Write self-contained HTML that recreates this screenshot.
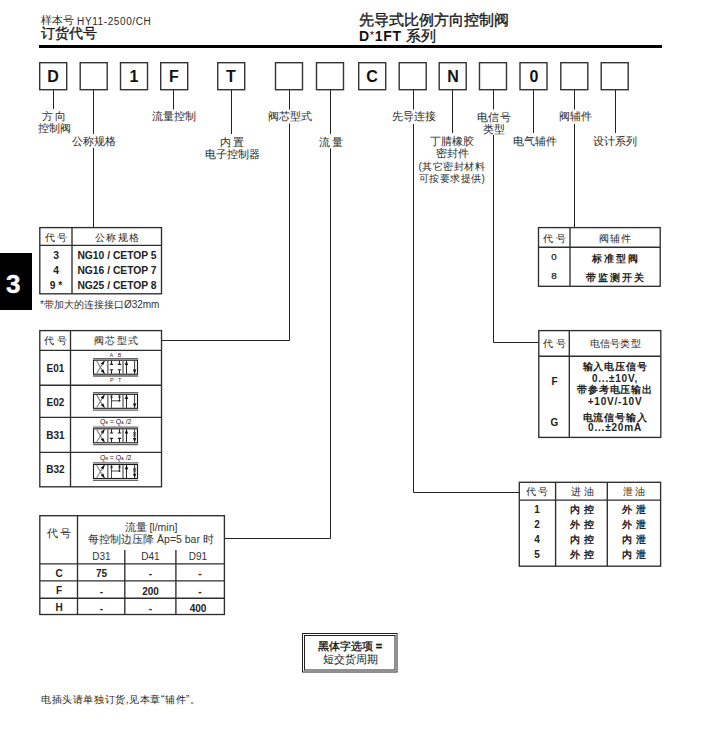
<!DOCTYPE html>
<html><head><meta charset="utf-8">
<style>
html,body{margin:0;padding:0;background:#fff;}
body{width:720px;height:755px;position:relative;overflow:hidden;font-family:"Liberation Sans",sans-serif;color:#222;}
.t{position:absolute;white-space:nowrap;line-height:1;}
.c{text-align:center;}
.b{font-weight:bold;}
svg{position:absolute;left:0;top:0;}
</style></head><body>
<svg width="720" height="755" viewBox="0 0 720 755">
<g fill="none" stroke="#222" stroke-width="1">
<!-- header rule -->
<rect x="39" y="45" width="623" height="3" fill="#000" stroke="none"/>
<!-- code boxes -->
<g stroke="#333" stroke-width="1.4">
<rect x="39.7" y="62.7" width="27" height="27"/>
<rect x="80.2" y="62.7" width="27" height="27"/>
<rect x="120.5" y="62.7" width="27" height="27"/>
<rect x="160.7" y="62.7" width="27" height="27"/>
<rect x="217.7" y="62.7" width="27" height="27"/>
<rect x="275.5" y="62.7" width="27" height="27"/>
<rect x="316.5" y="62.7" width="27" height="27"/>
<rect x="358.7" y="62.7" width="27" height="27"/>
<rect x="399.2" y="62.7" width="27" height="27"/>
<rect x="439.2" y="62.7" width="27" height="27"/>
<rect x="479.5" y="62.7" width="27" height="27"/>
<rect x="520" y="62.7" width="27" height="27"/>
<rect x="560.8" y="62.7" width="27" height="27"/>
<rect x="601.2" y="62.7" width="27" height="27"/>
</g>
<!-- stems -->
<path d="M53.5 90V109 M93.5 90V134 M93.5 148V227.5 M173.5 90V109.5 M231.5 90V134 M289.5 90V109.5 M289.5 123.5V340.5H161.5 M330.5 90V134 M330.5 148.5V538.5H224.5 M413.5 90V109.5 M413.5 124V492.5H519.5 M452.5 90V133 M493.5 90V109.5 M493.5 135V342.5H538.5 M533.5 90V133 M574.5 90V109.5 M574.5 124V227.5 M615.5 90V133"/>
<!-- table 1 nominal size -->
<g stroke="#2e2e2e" stroke-width="1.35">
<rect x="39.8" y="227.6" width="121.7" height="66.2"/>
<path d="M39.8 245.3H161.5 M72 227.6V293.8"/>
<!-- table spool -->
<rect x="39.8" y="330.6" width="121.7" height="156.2"/>
<path d="M39.8 350.3H161.5 M39.8 385.2H161.5 M39.8 417.3H161.5 M39.8 452.3H161.5 M70.5 330.6V486.8"/>
<!-- table flow -->
<rect x="39.8" y="515.7" width="184.6" height="98.8"/>
<path d="M39.8 563.8H224.4 M39.8 580.9H224.4 M39.8 598.2H224.4 M77.5 515.7V614.5 M124.8 550V614.5 M175.9 550V614.5"/>
<!-- table valve accessories -->
<rect x="538.5" y="227.6" width="121.7" height="58.7"/>
<path d="M538.5 247.2H660.2 M570 227.6V286.3"/>
<!-- table signal -->
<rect x="538.8" y="330.6" width="122" height="106.8"/>
<path d="M538.8 356.2H660.8 M569.3 330.6V437.4"/>
<!-- table pilot -->
<rect x="519.3" y="482.3" width="141.3" height="83.9"/>
<path d="M519.3 500.1H660.6 M555.6 482.3V566.2 M607.3 482.3V566.2"/>
</g>
<!-- note box -->
<rect x="302.5" y="633.5" width="94.5" height="38.5"/>
<rect x="304.5" y="635.5" width="90.5" height="34.5"/>
</g>


<g transform="translate(93.5 360.2)">
<path d="M-0.5 -1.6H44.8 M-0.5 15.8H44.8" stroke="#666" stroke-width="1.3" fill="none"/>
<rect x="0" y="0" width="44" height="14" fill="none" stroke="#1a1a1a" stroke-width="1.1"/>
<path d="M14.3 0.5V13.5 M29.5 0.5V13.5" stroke="#777" stroke-width="1.5" fill="none"/>
<path d="M3.2 0.8L10.6 13.2 M3.2 13.2L10.6 0.8" stroke="#808080" stroke-width="1.1" fill="none"/>
<path d="M11.4 0.3L7.2 3.3L9.8 4.9Z M11.4 13.7L7.2 10.7L9.8 9.1Z" fill="#111"/>
<path d="M33 0.5V13.5" stroke="#222" stroke-width="1"/>
<path d="M33 0.5L31.3 4.8H34.7Z" fill="#111"/>
</g><g transform="translate(93.5 360.2)">
<path d="M18 0.5V4.2 M16.3 4.2H19.7 M26 0.5V4.2 M24.3 4.2H27.7 M18 13.5V9.6 M16.3 9.6H19.7 M26 13.5V9.6 M24.3 9.6H27.7" stroke="#222" stroke-width="1.1" fill="none"/>
</g><g transform="translate(93.5 360.2)">
<path d="M41.1 0.5V13.5" stroke="#222" stroke-width="0.9"/>
<path d="M41.1 13.5L39.4 9.2H42.8Z" fill="#111"/>
</g>
<g transform="translate(93.5 394.3)">
<path d="M-0.5 -1.6H44.8 M-0.5 15.8H44.8" stroke="#666" stroke-width="1.3" fill="none"/>
<rect x="0" y="0" width="44" height="14" fill="none" stroke="#1a1a1a" stroke-width="1.1"/>
<path d="M14.3 0.5V13.5 M29.5 0.5V13.5" stroke="#777" stroke-width="1.5" fill="none"/>
<path d="M3.2 0.8L10.6 13.2 M3.2 13.2L10.6 0.8" stroke="#808080" stroke-width="1.1" fill="none"/>
<path d="M11.4 0.3L7.2 3.3L9.8 4.9Z M11.4 13.7L7.2 10.7L9.8 9.1Z" fill="#111"/>
<path d="M33 0.5V13.5" stroke="#222" stroke-width="1"/>
<path d="M33 0.5L31.3 4.8H34.7Z" fill="#111"/>
</g><g transform="translate(93.5 394.3)">
<path d="M18 0.5V13.5 M18 6.5H26 M26 0.5V6.5" stroke="#333" stroke-width="0.9" fill="none"/>
<path d="M16.8 1.5L19.2 3.5 M19.2 1.5L16.8 3.5 M24.8 1.5L27.2 3.5 M27.2 1.5L24.8 3.5" stroke="#222" stroke-width="0.9"/>
<circle cx="26" cy="6.5" r="1" fill="#222"/>
</g><g transform="translate(93.5 394.3)">
<path d="M41.1 0.5V13.5" stroke="#222" stroke-width="0.9"/>
<path d="M41.1 13.5L39.4 9.2H42.8Z" fill="#111"/>
</g>
<g transform="translate(93.5 428.8)">
<path d="M-0.5 -1.6H44.8 M-0.5 15.8H44.8" stroke="#666" stroke-width="1.3" fill="none"/>
<rect x="0" y="0" width="44" height="14" fill="none" stroke="#1a1a1a" stroke-width="1.1"/>
<path d="M14.3 0.5V13.5 M29.5 0.5V13.5" stroke="#777" stroke-width="1.5" fill="none"/>
<path d="M3.2 0.8L10.6 13.2 M3.2 13.2L10.6 0.8" stroke="#808080" stroke-width="1.1" fill="none"/>
<path d="M11.4 0.3L7.2 3.3L9.8 4.9Z M11.4 13.7L7.2 10.7L9.8 9.1Z" fill="#111"/>
<path d="M33 0.5V13.5" stroke="#222" stroke-width="1"/>
<path d="M33 0.5L31.3 4.8H34.7Z" fill="#111"/>
</g><g transform="translate(93.5 428.8)">
<path d="M18 0.5V4.2 M16.3 4.2H19.7 M26 0.5V4.2 M24.3 4.2H27.7 M18 13.5V9.6 M16.3 9.6H19.7 M26 13.5V9.6 M24.3 9.6H27.7" stroke="#222" stroke-width="1.1" fill="none"/>
</g><g transform="translate(93.5 428.8)">
<path d="M41.1 0.5V13.5" stroke="#222" stroke-width="0.9"/>
<path d="M41.1 13.5L39.4 9.2H42.8Z" fill="#111"/>
<path d="M39.6 3.5L42.6 5.3 M42.6 3.5L39.6 5.3 M39.6 5.8L42.6 7.6 M42.6 5.8L39.6 7.6" stroke="#333" stroke-width="0.7"/>
</g>
<g transform="translate(93.5 464.5)">
<path d="M-0.5 -1.6H44.8 M-0.5 15.8H44.8" stroke="#666" stroke-width="1.3" fill="none"/>
<rect x="0" y="0" width="44" height="14" fill="none" stroke="#1a1a1a" stroke-width="1.1"/>
<path d="M14.3 0.5V13.5 M29.5 0.5V13.5" stroke="#777" stroke-width="1.5" fill="none"/>
<path d="M3.2 0.8L10.6 13.2 M3.2 13.2L10.6 0.8" stroke="#808080" stroke-width="1.1" fill="none"/>
<path d="M11.4 0.3L7.2 3.3L9.8 4.9Z M11.4 13.7L7.2 10.7L9.8 9.1Z" fill="#111"/>
<path d="M33 0.5V13.5" stroke="#222" stroke-width="1"/>
<path d="M33 0.5L31.3 4.8H34.7Z" fill="#111"/>
</g><g transform="translate(93.5 464.5)">
<path d="M18 0.5V13.5 M18 6.5H26 M26 0.5V6.5" stroke="#333" stroke-width="0.9" fill="none"/>
<path d="M16.8 1.5L19.2 3.5 M19.2 1.5L16.8 3.5 M24.8 1.5L27.2 3.5 M27.2 1.5L24.8 3.5" stroke="#222" stroke-width="0.9"/>
<circle cx="26" cy="6.5" r="1" fill="#222"/>
</g><g transform="translate(93.5 464.5)">
<path d="M41.1 0.5V13.5" stroke="#222" stroke-width="0.9"/>
<path d="M41.1 13.5L39.4 9.2H42.8Z" fill="#111"/>
<path d="M39.6 3.5L42.6 5.3 M42.6 3.5L39.6 5.3 M39.6 5.8L42.6 7.6 M42.6 5.8L39.6 7.6" stroke="#333" stroke-width="0.7"/>
</g>
<!-- port letters -->
<g fill="#333" font-family="Liberation Sans" font-size="6">
<text x="109.6" y="357.2" font-size="5.5">A</text><text x="117.7" y="357.2" font-size="5.5">B</text>
<text x="110" y="381.8" font-size="5.5">P</text><text x="118" y="381.8" font-size="5.5">T</text>
</g>
<g fill="#1e1e1e" font-family="Liberation Sans" font-size="6.8">
<text x="100" y="424.2" textLength="31.5" lengthAdjust="spacingAndGlyphs">Q<tspan font-size="3.5">B</tspan> = Q<tspan font-size="3.5">A</tspan> /2</text>
<text x="100" y="459.9" textLength="31.5" lengthAdjust="spacingAndGlyphs">Q<tspan font-size="3.5">B</tspan> = Q<tspan font-size="3.5">A</tspan> /2</text>
</g>
<!-- section tab -->
<rect x="0" y="253" width="32" height="57" fill="#000"/>
</svg>

<!-- header text -->
<div class="t" style="left:41px;top:15px;font-size:11px;font-weight:500;color:#2a2a2a">样本号 <span style="font-size:10px;letter-spacing:0.6px;position:relative;top:0.5px">HY11-2500/CH</span></div>
<div class="t" style="left:41px;top:26.4px;font-size:14.4px;font-weight:500;-webkit-text-stroke:0.35px #1a1a1a;color:#1a1a1a">订货代号</div>
<div class="t" style="left:359px;top:13px;font-size:14.5px;font-weight:500;-webkit-text-stroke:0.35px #1a1a1a;color:#1a1a1a">先导式比例方向控制阀</div>
<div class="t" style="left:359px;top:27.5px;font-size:14px;color:#111"><b style="letter-spacing:0.7px">D<span style="font-size:11px;vertical-align:2px;font-weight:normal">*</span>1FT</b> <span style="font-size:15px;font-weight:500;-webkit-text-stroke:0.3px #1a1a1a">系列</span></div>

<!-- box letters -->
<div class="t b c" style="left:39px;top:68.5px;width:28px;font-size:16px;color:#111">D</div>
<div class="t b c" style="left:120px;top:68.5px;width:28px;font-size:16px;color:#111">1</div>
<div class="t b c" style="left:160px;top:68.5px;width:28px;font-size:16px;color:#111">F</div>
<div class="t b c" style="left:217px;top:68.5px;width:28px;font-size:16px;color:#111">T</div>
<div class="t b c" style="left:358px;top:68.5px;width:28px;font-size:16px;color:#111">C</div>
<div class="t b c" style="left:439px;top:68.5px;width:28px;font-size:16px;color:#111">N</div>
<div class="t b c" style="left:520px;top:68.5px;width:28px;font-size:16px;color:#111">0</div>

<!-- labels -->
<div class="t c" style="left:34px;top:111px;width:40px;font-size:10.5px;line-height:11.5px;font-weight:500;color:#2a2a2a">方 向<br>控制阀</div>
<div class="t c" style="left:64px;top:136px;width:60px;font-size:10.5px;font-weight:500;color:#2a2a2a">公称规格</div>
<div class="t c" style="left:144px;top:110.5px;width:60px;font-size:10.5px;font-weight:500;color:#2a2a2a">流量控制</div>
<div class="t c" style="left:202px;top:135.5px;width:60px;font-size:10.5px;line-height:12px;font-weight:500;color:#2a2a2a">内 置<br>电子控制器</div>
<div class="t c" style="left:260px;top:110.5px;width:60px;font-size:10.5px;font-weight:500;color:#2a2a2a">阀芯型式</div>
<div class="t c" style="left:301px;top:136.5px;width:60px;font-size:10.5px;font-weight:500;color:#2a2a2a">流 量</div>
<div class="t c" style="left:384px;top:110.5px;width:60px;font-size:10.5px;font-weight:500;color:#2a2a2a">先导连接</div>
<div class="t c" style="left:414px;top:135px;width:76px;font-size:10.5px;line-height:12px;font-weight:500;color:#2a2a2a">丁腈橡胶<br>密封件</div>
<div class="t c" style="left:414px;top:161px;width:76px;font-size:10px;letter-spacing:0.5px;line-height:12px;font-weight:500;color:#2a2a2a">(其它密封材料<br>可按要求提供)</div>
<div class="t c" style="left:464px;top:110.5px;width:60px;font-size:10.5px;line-height:12.5px;letter-spacing:0.6px;padding-left:0.6px;box-sizing:border-box;font-weight:500;color:#2a2a2a">电信号<br>类型</div>
<div class="t c" style="left:505px;top:136px;width:60px;font-size:10.5px;font-weight:500;color:#2a2a2a">电气辅件</div>
<div class="t c" style="left:545px;top:110.5px;width:60px;font-size:10.5px;font-weight:500;color:#2a2a2a">阀辅件</div>
<div class="t c" style="left:585px;top:136px;width:60px;font-size:10.5px;font-weight:500;color:#2a2a2a">设计系列</div>

<!-- section tab number -->
<div class="t b" style="left:6px;top:270.5px;font-size:26px;color:#fff;-webkit-text-stroke:0.4px #fff">3</div>

<!-- table 1 -->
<div class="t c" style="left:40px;top:232.5px;width:32px;font-size:10px;letter-spacing:2.6px;padding-left:2.6px;box-sizing:border-box;font-weight:500;color:#262626">代号</div>
<div class="t c" style="left:72px;top:232.5px;width:90px;font-size:10px;letter-spacing:1.5px;padding-left:1.5px;box-sizing:border-box;font-weight:500;color:#262626">公称规格</div>
<div class="t c b" style="left:40px;top:247.8px;width:32px;font-size:10.3px;line-height:15.2px;color:#222">3<br>4<br>9 *</div>
<div class="t c b" style="left:72px;top:247.8px;width:90px;font-size:10.3px;line-height:15.2px;color:#222">NG10 / CETOP 5<br>NG16 / CETOP 7<br>NG25 / CETOP 8</div>
<div class="t" style="left:40px;top:299.5px;font-size:10px;color:#333">*带加大的连接接口Ø32mm</div>

<!-- table spool -->
<div class="t c" style="left:40px;top:336px;width:31px;font-size:10px;letter-spacing:2.6px;padding-left:2.6px;box-sizing:border-box;font-weight:500;color:#262626">代号</div>
<div class="t c" style="left:71px;top:336px;width:90px;font-size:10px;letter-spacing:1.2px;padding-left:1.2px;box-sizing:border-box;font-weight:500;color:#262626">阀芯型式</div>
<div class="t c b" style="left:40px;top:363.5px;width:31px;font-size:10px;color:#222">E01</div>
<div class="t c b" style="left:40px;top:397.5px;width:31px;font-size:10px;color:#222">E02</div>
<div class="t c b" style="left:40px;top:431px;width:31px;font-size:10px;color:#222">B31</div>
<div class="t c b" style="left:40px;top:465px;width:31px;font-size:10px;color:#222">B32</div>

<!-- table flow -->
<div class="t c" style="left:41px;top:528px;width:36px;font-size:10.5px;letter-spacing:2px;padding-left:2px;box-sizing:border-box;font-weight:500;color:#262626">代号</div>
<div class="t c" style="left:78px;top:521px;width:146px;font-size:10.5px;line-height:12px;color:#333">流量 [l/min]<br>每控制边压降 Āp=5 bar 时</div>
<div class="t c" style="left:78px;top:552px;width:47px;font-size:10px;color:#333">D31</div>
<div class="t c" style="left:125px;top:552px;width:51px;font-size:10px;color:#333">D41</div>
<div class="t c" style="left:174px;top:552px;width:48px;font-size:10px;color:#333">D91</div>
<div class="t c b" style="left:41px;top:568.5px;width:36px;font-size:10px;color:#222">C</div>
<div class="t c b" style="left:41px;top:586px;width:36px;font-size:10px;color:#222">F</div>
<div class="t c b" style="left:41px;top:603px;width:36px;font-size:10px;color:#222">H</div>
<div class="t c b" style="left:78px;top:569px;width:47px;font-size:10px;color:#222">75</div>
<div class="t c b" style="left:125px;top:569px;width:51px;font-size:10px;color:#222">-</div>
<div class="t c b" style="left:176px;top:569px;width:48px;font-size:10px;color:#222">-</div>
<div class="t c b" style="left:78px;top:587px;width:47px;font-size:10px;color:#222">-</div>
<div class="t c b" style="left:125px;top:587px;width:51px;font-size:10px;color:#222">200</div>
<div class="t c b" style="left:176px;top:587px;width:48px;font-size:10px;color:#222">-</div>
<div class="t c b" style="left:78px;top:604px;width:47px;font-size:10px;color:#222">-</div>
<div class="t c b" style="left:125px;top:604px;width:51px;font-size:10px;color:#222">-</div>
<div class="t c b" style="left:174px;top:604px;width:48px;font-size:10px;color:#222">400</div>

<!-- table accessories -->
<div class="t c" style="left:539px;top:233.5px;width:31px;font-size:10px;letter-spacing:3.5px;padding-left:3.5px;box-sizing:border-box;font-weight:500;color:#262626">代号</div>
<div class="t c" style="left:570px;top:233.5px;width:90px;font-size:10px;letter-spacing:1.4px;padding-left:1.4px;box-sizing:border-box;font-weight:500;color:#262626">阀辅件</div>
<div class="t c" style="left:538.5px;top:246.8px;width:31px;font-size:9.8px;line-height:19.5px;color:#1a1a1a;-webkit-text-stroke:0.25px #1a1a1a">0<br>8</div>
<div class="t c b" style="left:570px;top:248.5px;width:90px;font-size:10px;line-height:19.5px;letter-spacing:1.8px;padding-left:1.8px;box-sizing:border-box;color:#222">标准型阀<br>带监测开关</div>

<!-- table signal -->
<div class="t c" style="left:539px;top:339px;width:31px;font-size:10px;letter-spacing:2.5px;padding-left:2.5px;box-sizing:border-box;font-weight:500;color:#262626">代号</div>
<div class="t c" style="left:570px;top:339px;width:90px;font-size:10px;letter-spacing:0.25px;padding-left:0.25px;box-sizing:border-box;font-weight:500;color:#262626">电信号类型</div>
<div class="t c b" style="left:539px;top:376.5px;width:31px;font-size:10px;color:#222">F</div>
<div class="t c b" style="left:539px;top:418px;width:31px;font-size:10px;color:#222">G</div>
<div class="t c b" style="left:570px;top:361px;width:90px;font-size:10px;line-height:11.5px;letter-spacing:0.8px;color:#222">输入电压信号<br>0...±10V,<br>带参考电压输出<br>+10V/-10V</div>
<div class="t c b" style="left:570px;top:412.5px;width:90px;font-size:10px;line-height:10.5px;letter-spacing:0.8px;color:#222">电流信号输入<br>0...±20mA</div>

<!-- table pilot -->
<div class="t c" style="left:519px;top:487px;width:36px;font-size:10px;letter-spacing:2.4px;padding-left:2.4px;box-sizing:border-box;font-weight:500;color:#262626">代号</div>
<div class="t c" style="left:556px;top:487px;width:52px;font-size:10px;letter-spacing:3px;padding-left:3px;box-sizing:border-box;font-weight:500;color:#262626">进油</div>
<div class="t c" style="left:608px;top:487px;width:52px;font-size:10px;letter-spacing:2.6px;padding-left:2.6px;box-sizing:border-box;font-weight:500;color:#262626">泄油</div>
<div class="t c b" style="left:519px;top:501.5px;width:36px;font-size:10px;line-height:15.2px;color:#222">1<br>2<br>4<br>5</div>
<div class="t c b" style="left:556px;top:501.5px;width:52px;font-size:10px;line-height:15.2px;letter-spacing:4.5px;padding-left:4.5px;box-sizing:border-box;color:#222">内控<br>外控<br>内控<br>外控</div>
<div class="t c b" style="left:608px;top:501.5px;width:52px;font-size:10px;line-height:15.2px;letter-spacing:4.5px;padding-left:4.5px;box-sizing:border-box;color:#222">外泄<br>外泄<br>内泄<br>内泄</div>

<!-- note box -->
<div class="t c" style="left:302px;top:640px;width:96px;font-size:11px;line-height:13px;color:#111"><span style="font-weight:500;-webkit-text-stroke:0.3px #111">黑体字选项 <b>=</b></span><br><span style="font-size:10.7px">短交货周期</span></div>

<!-- bottom note -->
<div class="t" style="left:41px;top:694.5px;font-size:10px;letter-spacing:0.6px;color:#222">电插头请单独订货,见本章“辅件”。</div>
</body></html>
